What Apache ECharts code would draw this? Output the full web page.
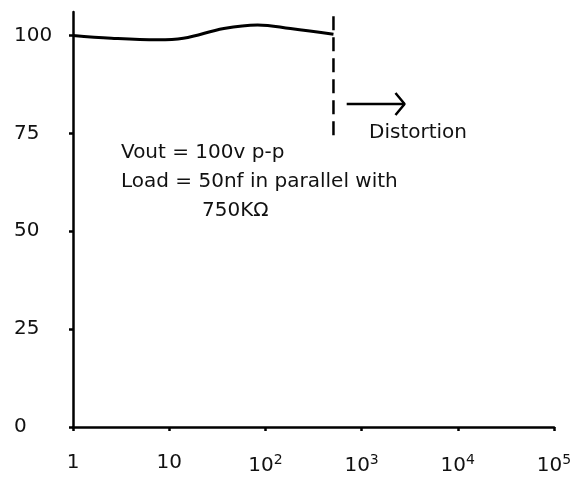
<!DOCTYPE html>
<html>
<head>
<meta charset="utf-8">
<script src="https://cdn.jsdelivr.net/npm/echarts@6/dist/echarts.min.js"></script>
<style>
html,body{margin:0;padding:0;background:#fff;}
#chart{width:581px;height:482px;}
</style>
</head>
<body>
<div id="chart"></div>
<script>
// ---- data ----
const xTicks = [1, 10, 100, 1000, 10000, 100000];
const xTickLabels = ['{b|1}', '{b|10}', '{b|10}{s|2}', '{b|10}{s|3}', '{b|10}{s|4}', '{b|10}{s|5}'];
const yTicks = [0, 25, 50, 75, 100];
const yTickLabels = ['0', '25', '50', '75', '100'];
const responseFreq = [1, 2.5, 7.6, 14, 37, 83, 182, 510];
const responseVal = [100, 99.3, 98.9, 99.3, 101.8, 102.7, 101.8, 100.3];
const distortionFreq = [510, 510];
const distortionVal = [74.5, 105.5];
const arrowFreq = [700, 2800];
const arrowVal = [82.5, 82.5];
const arrowHeadFreq = [2250, 2800, 2250];
const arrowHeadVal = [85.3, 82.5, 79.7];
const noteLines = ['Vout = 100v p-p', 'Load = 50nf in parallel with', '750KΩ'];
const distortionLabel = 'Distortion';

const FONT = 'DejaVu Sans';
const zip = (a, b) => a.map((v, i) => [v, b[i]]);

const chart = echarts.init(document.getElementById('chart'), null, {renderer: 'canvas'});
chart.setOption({
  animation: false,
  backgroundColor: '#fff',
  textStyle: {fontFamily: FONT, color: '#111'},
  grid: {left: 73, right: 27, top: 12, bottom: 55, outerBoundsMode: 'none', containLabel: false},
  xAxis: {
    type: 'log', logBase: 10, min: 1, max: 100000,
    axisLine: {lineStyle: {color: '#000', width: 2.5}},
    axisTick: {show: true, length: 4, lineStyle: {color: '#000', width: 2.5}, customValues: xTicks},
    splitLine: {show: false},
    minorTick: {show: false},
    axisLabel: {
      margin: 26, color: '#111', fontFamily: FONT, customValues: xTicks,
      formatter: v => xTickLabels[xTicks.findIndex(t => Math.abs(Math.log10(t) - Math.log10(v)) < 1e-6)] || '',
      rich: {
        b: {fontSize: 20, fontFamily: FONT, color: '#111'},
        s: {fontSize: 14, fontFamily: FONT, color: '#111', verticalAlign: 'top', padding: [0, 0, 11, 0]}
      }
    }
  },
  yAxis: {
    type: 'value', min: 0, max: 106,
    axisLine: {show: true, lineStyle: {color: '#000', width: 2.5}},
    axisTick: {show: true, length: 4, lineStyle: {color: '#000', width: 2.5}, customValues: yTicks},
    splitLine: {show: false},
    axisLabel: {
      align: 'left', margin: 59, fontSize: 20, color: '#111', fontFamily: FONT, customValues: yTicks,
      padding: [6, 0, 0, 0],
      formatter: v => yTickLabels[yTicks.indexOf(v)] ?? ''
    }
  },
  graphic: [
    {type: 'text', left: 121, top: 143, style: {text: noteLines[0], font: '20px "DejaVu Sans"', fill: '#111'}},
    {type: 'text', left: 121, top: 172, style: {text: noteLines[1], font: '20px "DejaVu Sans"', fill: '#111'}},
    {type: 'text', left: 202, top: 201, style: {text: noteLines[2], font: '20px "DejaVu Sans"', fill: '#111'}},
    {type: 'text', left: 369, top: 123, style: {text: distortionLabel, font: '20px "DejaVu Sans"', fill: '#111'}}
  ],
  series: [
    {type: 'line', data: zip(responseFreq, responseVal), smooth: 0.4, symbol: 'none',
     lineStyle: {color: '#000', width: 3}},
    {type: 'line', data: zip(distortionFreq, distortionVal), symbol: 'none',
     lineStyle: {color: '#000', width: 2.5, type: [14, 7]}},
    {type: 'line', data: zip(arrowFreq, arrowVal), symbol: 'none',
     lineStyle: {color: '#000', width: 2.5}},
    {type: 'line', data: zip(arrowHeadFreq, arrowHeadVal), symbol: 'none',
     lineStyle: {color: '#000', width: 2.5}}
  ]
});
</script>
</body>
</html>
